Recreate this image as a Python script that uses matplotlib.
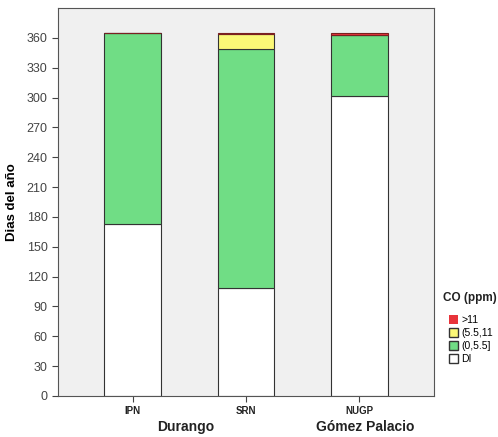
import matplotlib.pyplot as plt
from matplotlib.patches import Patch
import numpy as np

plt.rcParams["font.family"] = ["Liberation Sans", "DejaVu Sans"]

# data (days of the year per CO category)
sites = ["IPN", "SRN", "NUGP"]
cities = ["Durango", "Gómez Palacio"]
di = [173, 109, 302]
low = [192, 240, 61]      # (0,5.5]
mid = [0, 15, 0]          # (5.5,11
high = [0, 1, 2]          # >11

c_di = "white"
c_low = "#70dd85"
c_mid = "#fbf877"
c_high = "#e8343a"

fig = plt.figure(figsize=(4.98, 4.37), dpi=100)
ax = fig.add_axes([58/498, 1-396/437, 376/498, 388/437])
ax.set_facecolor("#f0f0f0")

x = np.arange(len(sites))
w = 0.5
b0 = np.array(di)
b1 = b0 + np.array(low)
b2 = b1 + np.array(mid)
ax.bar(x, di, w, color=c_di, edgecolor="#333333", linewidth=0.8)
ax.bar(x, low, w, bottom=b0, color=c_low, edgecolor="#333333", linewidth=0.8)
ax.bar(x, mid, w, bottom=b1, color=c_mid, edgecolor="#333333", linewidth=0.8)
ax.bar(x, high, w, bottom=b2, color=c_high, edgecolor="#7a2020", linewidth=0.8)

ax.set_xlim(-0.66, 2.66)
ax.set_ylim(0, 390)
ax.set_yticks(np.arange(0, 361, 30))
ax.set_xticks(x)
ax.set_xticklabels(sites, fontsize=7, fontweight="bold", color="#222222")
ax.tick_params(axis="y", labelsize=9, labelcolor="#444444", length=4, color="#444444")
ax.tick_params(axis="x", length=4, color="#444444", pad=3)
for s in ax.spines.values():
    s.set_color("#555555")
    s.set_linewidth(0.8)

ax.set_ylabel("Dias del año", fontsize=9.5, fontweight="bold", labelpad=6)

fig.text(186/498, 1-427/437, cities[0], fontsize=10, fontweight="bold",
         ha="center", va="center", color="#222222")
fig.text(365/498, 1-427/437, cities[1], fontsize=10, fontweight="bold",
         ha="center", va="center", color="#222222")

fig.text(443/498, 1-298/437, "CO (ppm)", fontsize=8.5, fontweight="bold",
         ha="left", va="center", color="#222222")
handles = [Patch(facecolor=c_high, edgecolor="none"),
           Patch(facecolor=c_mid, edgecolor="#333333"),
           Patch(facecolor=c_low, edgecolor="#333333"),
           Patch(facecolor=c_di, edgecolor="#333333")]
labels = [">11", "(5.5,11", "(0,5.5]", "DI"]
fig.legend(handles, labels, loc="upper left",
           bbox_to_anchor=(449/498, 1-315/437), frameon=False,
           fontsize=7.5, handlelength=0.9, handleheight=0.9,
           handletextpad=0.3, labelspacing=0.3, borderaxespad=0,
           borderpad=0)

fig.savefig("out.png", dpi=100)
